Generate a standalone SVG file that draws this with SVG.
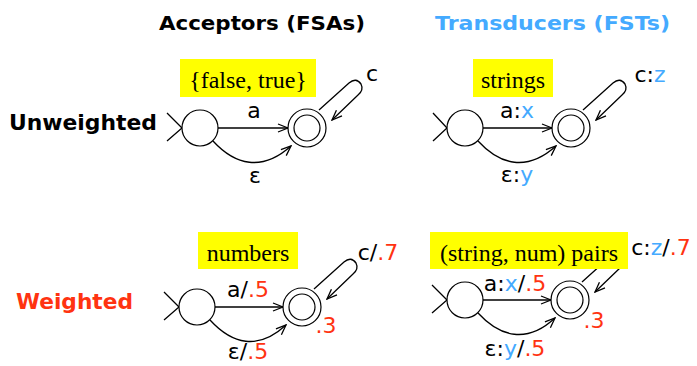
<svg xmlns="http://www.w3.org/2000/svg" width="697" height="366" viewBox="0 0 697 366">
<defs>
<marker id="ah" viewBox="0 0 12 10" refX="11" refY="5" markerWidth="12" markerHeight="10" markerUnits="userSpaceOnUse" orient="auto">
<path d="M1,1 L11,5 L1,9" fill="none" stroke="#000" stroke-width="1.3"/>
</marker>
</defs>
<style>
.st{fill:#fff;stroke:#000;stroke-width:1.2}
.e{fill:none;stroke:#000;stroke-width:1.3}
.ea{fill:none;stroke:#000;stroke-width:1.3;marker-end:url(#ah)}
.box{fill:#ffff00}
.ser{font-family:"Liberation Serif","Times New Roman",serif;font-size:24px;fill:#000;text-anchor:middle}
.lb{font-family:"DejaVu Sans",Verdana,sans-serif;font-size:22px;fill:#000;text-anchor:middle}
.hd{font-family:"DejaVu Sans",Verdana,sans-serif;font-weight:bold;font-size:20px}
.rh{font-family:"DejaVu Sans",Verdana,sans-serif;font-weight:bold;font-size:22px}
.b{fill:#44aaff}
.r{fill:#ff3311}
</style>
<rect width="697" height="366" fill="#fff"/>

<g id="headers">
<text class="hd" x="159" y="30" textLength="206" lengthAdjust="spacingAndGlyphs" fill="#000">Acceptors (FSAs)</text>
<text class="hd" x="435" y="30" textLength="235" lengthAdjust="spacingAndGlyphs" fill="#44aaff">Transducers (FSTs)</text>
<text class="rh" x="9" y="130" textLength="148" lengthAdjust="spacingAndGlyphs" fill="#000">Unweighted</text>
<text class="rh" x="16" y="309" textLength="117" lengthAdjust="spacingAndGlyphs" fill="#ff3311">Weighted</text>
</g>

<!-- Top-left: unweighted acceptor -->
<g id="connectors-tl">
<path class="e" d="M167,113 L182,128 L167,141"/>
<path class="ea" d="M218,128 L288,128"/>
<path class="ea" d="M213,141 C235,165 262,172 291,146"/>
<path class="ea" d="M319,110 L349,83 Q356,77 361,84 Q364,90 358,95 L332,120"/>
<text class="lb" x="254" y="118">a</text>
<text class="lb" x="255" y="183">ε</text>
<text class="lb" x="372" y="81">c</text>
</g>
<g id="tl-start"><circle class="st" cx="200" cy="128" r="18"/></g>
<g id="tl-final"><circle class="st" cx="307" cy="128" r="19"/><circle class="st" cx="307" cy="128" r="13"/></g>
<g id="tl-type"><rect class="box" x="180" y="59" width="136" height="38"/><text class="ser" x="248" y="88">{false, true}</text></g>

<!-- Top-right: unweighted transducer -->
<g id="connectors-tr">
<path class="e" d="M433,113 L447,128 L433,141"/>
<path class="ea" d="M483,128 L552,128"/>
<path class="ea" d="M478,141 C500,165 527,172 556,146"/>
<path class="ea" d="M583,110 L613,83 Q620,77 625,84 Q628,90 622,95 L596,120"/>
<text class="lb" x="517" y="118">a:<tspan class="b">x</tspan></text>
<text class="lb" x="517" y="182">ε:<tspan class="b">y</tspan></text>
<text class="lb" x="650" y="82">c:<tspan class="b">z</tspan></text>
</g>
<g id="tr-start"><circle class="st" cx="465" cy="128" r="18"/></g>
<g id="tr-final"><circle class="st" cx="571" cy="128" r="19"/><circle class="st" cx="571" cy="128" r="13"/></g>
<g id="tr-type"><rect class="box" x="473" y="59" width="80" height="38"/><text class="ser" x="513" y="88">strings</text></g>

<!-- Bottom-left: weighted acceptor -->
<g id="connectors-bl">
<path class="e" d="M164,292 L179,307 L164,320"/>
<path class="ea" d="M215,307 L283,307"/>
<path class="ea" d="M210,320 C232,344 258,351 286,325"/>
<path class="ea" d="M314,289 L344,262 Q351,256 356,263 Q359,269 353,274 L327,299"/>
<text class="lb" x="248" y="297">a/<tspan class="r">.5</tspan></text>
<text class="lb" x="248" y="359">ε/<tspan class="r">.5</tspan></text>
<text class="lb" x="378" y="260">c/<tspan class="r">.7</tspan></text>
<text class="lb r" x="326" y="333">.3</text>
</g>
<g id="bl-start"><circle class="st" cx="197" cy="307" r="18"/></g>
<g id="bl-final"><circle class="st" cx="302" cy="307" r="19"/><circle class="st" cx="302" cy="307" r="13"/></g>
<g id="bl-type"><rect class="box" x="198" y="232" width="100" height="37"/><text class="ser" x="248" y="261">numbers</text></g>

<!-- Bottom-right: weighted transducer -->
<g id="connectors-br">
<path class="e" d="M432,285 L447,300 L432,313"/>
<path class="ea" d="M483,300 L551,300"/>
<path class="ea" d="M478,313 C500,337 527,344 555,318"/>
<path class="ea" d="M582,282 L612,255 Q619,249 624,256 Q627,262 621,267 L595,292"/>
<text class="lb" x="515" y="291">a:<tspan class="b">x</tspan>/<tspan class="r">.5</tspan></text>
<text class="lb" x="515" y="356">ε:<tspan class="b">y</tspan>/<tspan class="r">.5</tspan></text>
<text class="lb" x="661" y="255">c:<tspan class="b">z</tspan>/<tspan class="r">.7</tspan></text>
<text class="lb r" x="594" y="328">.3</text>
</g>
<g id="br-start"><circle class="st" cx="465" cy="300" r="18"/></g>
<g id="br-final"><circle class="st" cx="570" cy="300" r="19"/><circle class="st" cx="570" cy="300" r="13"/></g>
<g id="br-type"><rect class="box" x="430" y="232" width="198" height="37"/><text class="ser" x="529" y="261">(string, num) pairs</text></g>
</svg>
